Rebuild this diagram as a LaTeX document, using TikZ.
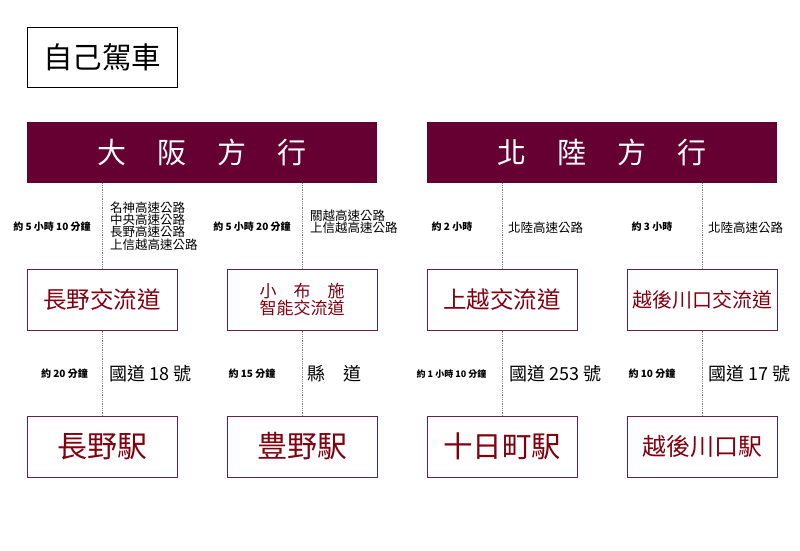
\documentclass[tikz,border=0pt]{standalone}
\usepackage{fontspec}
\setmainfont{Noto Sans CJK TC}
\usetikzlibrary{positioning}
\definecolor{wine}{HTML}{660033}
\definecolor{boxline}{HTML}{6B1F45}
\definecolor{stred}{HTML}{800010}

\begin{document}
\begin{tikzpicture}[x=1pt, y=-1pt, every node/.style={inner sep=0pt},
	hdr/.style={fill=wine, minimum width=350pt, minimum height=61pt, text=white, font=\fontsize{29}{30}\selectfont},
	icbox/.style={draw=boxline, line width=1pt, minimum width=150pt, minimum height=61pt, text=stred, align=center},
	stabox/.style={draw=boxline, line width=1pt, minimum width=150pt, minimum height=61pt, text=stred},
	tm/.style={font=\bfseries\fontsize{10}{11}\selectfont},
	rd/.style={anchor=west, align=left, font=\fontsize{12.5}{12.4}\selectfont},
	rd2/.style={anchor=west, font=\fontsize{18}{18}\selectfont},
	link/.style={densely dotted, gray, line width=0.8pt}]

	\useasboundingbox (0,0) rectangle (800,550);

	% title
	\node[draw, line width=1pt, minimum width=150pt, minimum height=60pt, font=\fontsize{29.5}{30}\selectfont] (title) at (102,57) {自己駕車};

	% headers
	\node[hdr] (osaka) at (202,152.5) {大\hspace{31pt}阪\hspace{31pt}方\hspace{31pt}行};
	\node[hdr] (hokuriku) at (602,152.5) {北\hspace{31pt}陸\hspace{31pt}方\hspace{31pt}行};

	% interchanges
	\node[icbox, font=\fontsize{23.5}{24}\selectfont] (icA) at (102,299.5) {長野交流道};
	\node[icbox, font=\fontsize{17}{17}\selectfont] (icB) at (302,299.5) {小\hspace{17pt}布\hspace{17pt}施\\智能交流道};
	\node[icbox, font=\fontsize{23.5}{24}\selectfont] (icC) at (502,299.5) {上越交流道};
	\node[icbox, font=\fontsize{20}{20}\selectfont] (icD) at (702,299.5) {越後川口交流道};

	% stations
	\node[stabox, font=\fontsize{30}{30}\selectfont] (stA) at (102,446.5) {長野駅};
	\node[stabox, font=\fontsize{30}{30}\selectfont] (stB) at (302,446.5) {豊野駅};
	\node[stabox, font=\fontsize{29.5}{30}\selectfont] (stC) at (502,446.5) {十日町駅};
	\node[stabox, font=\fontsize{24}{24}\selectfont] (stD) at (702,446.5) {越後川口駅};

	% connectors
	\draw[link] (icA.north |- osaka.south) -- (icA.north);
	\draw[link] (icB.north |- osaka.south) -- (icB.north);
	\draw[link] (icC.north |- hokuriku.south) -- (icC.north);
	\draw[link] (icD.north |- hokuriku.south) -- (icD.north);
	\draw[link] (icA.south) -- (stA.north);
	\draw[link] (icB.south) -- (stB.north);
	\draw[link] (icC.south) -- (stC.north);
	\draw[link] (icD.south) -- (stD.north);

	% times and roads, upper row
	\node[tm] (tA) at (52,227) {約 5 小時 10 分鐘};
	\node[rd] (rA) at (110,226) {名神高速公路\\中央高速公路\\長野高速公路\\上信越高速公路};
	\node[tm] (tB) at (252,227) {約 5 小時 20 分鐘};
	\node[rd] (rB) at (310,222) {關越高速公路\\上信越高速公路};
	\node[tm] (tC) at (452,227) {約 2 小時};
	\node[rd] (rC) at (508,228) {北陸高速公路};
	\node[tm] (tD) at (652,227) {約 3 小時};
	\node[rd] (rD) at (708,228) {北陸高速公路};

	% times and roads, lower row
	\node[tm] (tE) at (64.5,374) {約 20 分鐘};
	\node[rd2] (rE) at (109,374) {國道 18 號};
	\node[tm] (tF) at (252,374) {約 15 分鐘};
	\node[rd2] (rF) at (307,374) {縣\hspace{18pt}道};
	\node[tm, font=\bfseries\fontsize{9}{10}\selectfont] (tG) at (451.5,374) {約 1 小時 10 分鐘};
	\node[rd2] (rG) at (509,374) {國道 253 號};
	\node[tm] (tH) at (652,374) {約 10 分鐘};
	\node[rd2] (rH) at (708,374) {國道 17 號};
\end{tikzpicture}
\end{document}
